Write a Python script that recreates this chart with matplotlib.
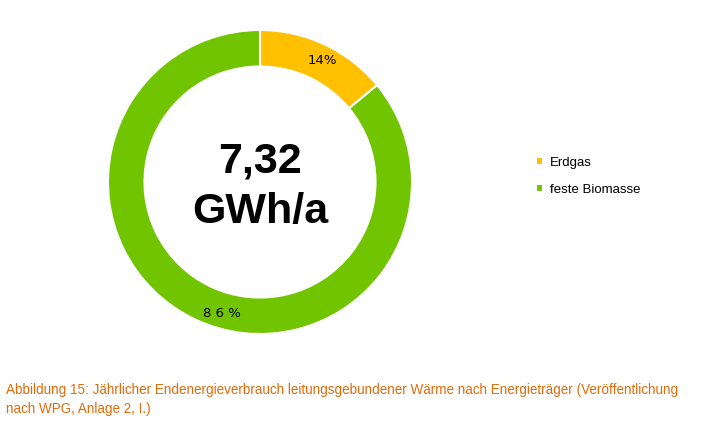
import matplotlib
matplotlib.use("Agg")
import matplotlib.pyplot as plt
import numpy as np

categories = ["Erdgas", "feste Biomasse"]
values = [14, 86]
pct_labels = ["14%", "8 6 %"]
colors = ["#FFC000", "#70C500"]
center_text = "7,32\nGWh/a"
caption = ("Abbildung 15: Jährlicher Endenergieverbrauch leitungsgebundener Wärme nach Energieträger (Veröffentlichung\n"
           "nach WPG, Anlage 2, I.)")

fig = plt.figure(figsize=(7.12, 4.21), dpi=100)
ax = fig.add_axes([108/712, (421-334)/421, 304/712, 304/421])
wedges, _ = ax.pie(values, colors=colors, startangle=90, counterclock=False,
                   radius=1, wedgeprops=dict(width=0.24, edgecolor="white", linewidth=1.5))
ax.set_xlim(-1, 1)
ax.set_ylim(-1, 1)
ax.set_aspect("equal")
ax.axis("off")

label_nudge = [-2, 9]  # degrees, label placement tweak
cum = 0
for v, lab, nd in zip(values, pct_labels, label_nudge):
    mid = 90 - (cum + v/2) * 3.6 + nd
    cum += v
    r = 0.9
    ax.text(r*np.cos(np.radians(mid)), r*np.sin(np.radians(mid)), lab,
            ha="center", va="center", fontsize=9.5, family="DejaVu Sans")

ax.text(0, -0.03, center_text, ha="center", va="center", fontsize=31,
        fontweight="bold", family="Liberation Sans", linespacing=1.35)

# legend
fig.legend(wedges, categories, loc="upper left", bbox_to_anchor=(524/712, 1 - 145/421),
           frameon=False, handlelength=0.55, handleheight=0.55, handletextpad=0.5,
           labelspacing=1.15, prop=dict(family="Liberation Sans", size=9.5))

fig.text(6/712, 1 - 383/421, caption, ha="left", va="top", color="#E26B0A",
         fontsize=9.75, family="Liberation Sans", linespacing=1.45)

fig.savefig("out.png", dpi=100)
